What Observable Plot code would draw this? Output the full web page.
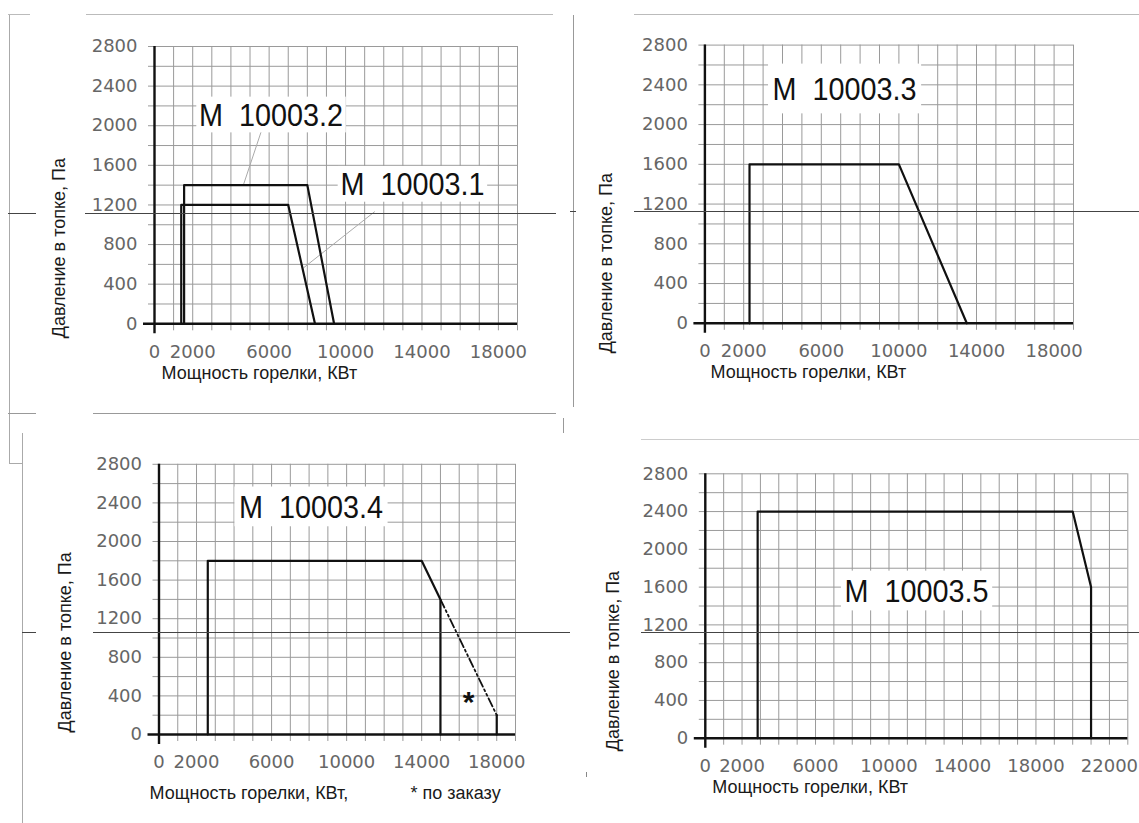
<!DOCTYPE html>
<html><head><meta charset="utf-8">
<script src="https://cdn.jsdelivr.net/npm/d3@7"></script>
<script src="https://cdn.jsdelivr.net/npm/@observablehq/plot@0.6"></script>
<style>
body{margin:0;background:#fff;}
#page{position:relative;width:1139px;height:823px;overflow:hidden;background:#fff;}
.panel{position:absolute;}
.deco{position:absolute;z-index:5;}
</style></head><body><div id="page"></div>
<script>
// ---- data ----
const xTicks19 = [0, 2000, 6000, 10000, 14000, 18000];
const xTicks23 = [0, 2000, 6000, 10000, 14000, 18000, 22000];
const yTicks = [0, 400, 800, 1200, 1600, 2000, 2400, 2800];
const xTitle = "Мощность горелки, КВт";
const xTitle4 = "Мощность горелки, КВт,";
const orderNote = "* по заказу";
const yTitle = "Давление в топке, Па";

// M 10003.1
const m1X = [1400, 1400, 7000, 8400];
const m1Y = [0, 1200, 1200, 0];
// M 10003.2
const m2X = [1550, 1550, 8000, 9400];
const m2Y = [0, 1400, 1400, 0];
// M 10003.3
const m3X = [2300, 2300, 10000, 13500];
const m3Y = [0, 1600, 1600, 0];
// M 10003.4 (standard)
const m4X = [2600, 2600, 14000, 15000, 15000];
const m4Y = [0, 1800, 1800, 1400, 0];
// M 10003.4 (on order, dash-dot)
const m4optX = [15000, 18000];
const m4optY = [1400, 200];
const m4endX = [18000, 18000];
const m4endY = [200, 0];
// M 10003.5
const m5X = [2850, 2850, 20000, 21000, 21000];
const m5Y = [0, 2400, 2400, 1600, 0];

const pts = (xs, ys) => xs.map((x, i) => ({x, y: ys[i]}));
const NB = "\u00a0\u00a0";
const titleFont = "'Liberation Sans'";

// ---- page decorations (scan borders) ----
const decoLines = [
  [8, 14, 30, 14, "#bbb"], [86, 14, 553, 14, "#bbb"], [9, 15, 9, 463, "#aaa"],
  [8, 213, 36, 213, "#444"], [85, 213, 556, 213, "#444"],
  [8, 413, 36, 413, "#999"], [93, 413, 556, 413, "#999"],
  [573, 15, 573, 407, "#999"], [634, 14, 1139, 14, "#bbb"],
  [570, 211, 576, 211, "#444"], [634, 211, 1139, 211, "#444"],
  [563, 418, 563, 433, "#999"], [9, 463, 22, 463, "#aaa"], [22, 433, 22, 823, "#aaa"],
  [22, 632, 36, 632, "#444"], [93, 632, 570, 632, "#444"],
  [641, 439, 1139, 439, "#ccc"], [641, 632, 1139, 632, "#444"],
  [586, 772, 586, 777, "#888"]
];

const page = document.getElementById("page");

function makePanel(cfg) {
  const xGrid = d3.range(0, cfg.xMax + 1, 1000);
  const yGrid = d3.range(0, 2801, 200);
  const marks = [
    Plot.ruleX(xGrid, {stroke: "#9a9a9a", strokeWidth: 1, insetBottom: -7}),
    Plot.ruleY(yGrid, {stroke: "#9a9a9a", strokeWidth: 1, insetLeft: -6}),
    Plot.axisX({ticks: cfg.xTicks, tickSize: 0, tickPadding: 21, fontSize: 18, fontFamily: "DejaVu Sans", color: "#666", tickFormat: d3.format("d"), label: null}),
    Plot.axisY({ticks: yTicks, tickSize: 0, tickPadding: 17, fontSize: 18, fontFamily: "DejaVu Sans", color: "#666", tickFormat: d3.format("d"), label: null}),
    ...cfg.marks,
    Plot.ruleX([0], {stroke: "#111", strokeWidth: 2.4, insetBottom: -10}),
    Plot.ruleY([0], {stroke: "#111", strokeWidth: 2.4, insetLeft: -11}),
    Plot.text([cfg.xTitle], {text: d => d, frameAnchor: "bottom-left", textAnchor: "start", dx: cfg.xtDx, dy: cfg.xtDy, fontSize: 18, fontFamily: titleFont, fill: "#1a1a1a"}),
    Plot.text([yTitle], {text: d => d, frameAnchor: "left", rotate: -90, textAnchor: "middle", dx: cfg.ytDx, dy: cfg.ytDy, fontSize: 18, fontFamily: titleFont, fill: "#1a1a1a"}),
    ...(cfg.extra || []),
    Plot.text(cfg.labels, {x: "x", y: "y", text: "t", fontSize: 32, fontFamily: "Liberation Sans", fill: "#111"})
  ];
  const svg = Plot.plot({
    width: cfg.width, height: cfg.height,
    marginLeft: cfg.mL, marginRight: cfg.mR, marginTop: cfg.mT, marginBottom: cfg.mB,
    x: {domain: [0, cfg.xMax]},
    y: {domain: [0, 2800]},
    style: {background: "transparent", fontFamily: "DejaVu Sans", overflow: "visible"},
    marks
  });
  svg.classList.add("panel");
  svg.style.left = cfg.left + "px";
  svg.style.top = cfg.top + "px";
  page.appendChild(svg);
  // condensed model labels with white boxes behind
  svg.querySelectorAll("text").forEach(t => {
    if (!t.textContent.startsWith("M\u00a0")) return;
    const b0 = t.getBBox();
    const cx = b0.x + b0.width / 2;
    const tr0 = t.getAttribute("transform") || "";
    const tr = `${tr0} translate(${cx},0) scale(0.9,1) translate(${-cx},0)`;
    t.setAttribute("transform", tr);
    const b = t.getBBox();
    const r = document.createElementNS("http://www.w3.org/2000/svg", "rect");
    r.setAttribute("x", b.x - cfg.padX);
    r.setAttribute("y", b.y - cfg.padY);
    r.setAttribute("width", b.width + 2 * cfg.padX);
    r.setAttribute("height", b.height + 2 * cfg.padY);
    r.setAttribute("fill", "white");
    r.setAttribute("stroke", "none");
    r.setAttribute("transform", tr);
    t.parentNode.insertBefore(r, t);
  });
}

const curve = (xs, ys, extra = {}) => Plot.line(pts(xs, ys), {x: "x", y: "y", stroke: "#111", strokeWidth: 2.2, ...extra});

// Panel 1
makePanel({
  left: 0, top: 0, width: 560, height: 410, mL: 154, mR: 43, mT: 46, mB: 86.7,
  xMax: 19000, xTicks: xTicks19, xTitle, xtDx: 7, xtDy: 55, ytDx: -95, ytDy: 63, padX: 3, padY: 0,
  marks: [
    Plot.link([{x1: 5600, y1: 1950, x2: 4650, y2: 1400}, {x1: 11530, y1: 1133, x2: 7800, y2: 565}],
      {x1: "x1", y1: "y1", x2: "x2", y2: "y2", stroke: "#aaa", strokeWidth: 1}),
    curve(m1X, m1Y), curve(m2X, m2Y)
  ],
  labels: [{x: 6100, y: 2100, t: "M" + NB + "10003.2"}, {x: 13500, y: 1400, t: "M" + NB + "10003.1"}]
});

// Panel 2
makePanel({
  left: 570, top: 0, width: 569, height: 410, mL: 134.4, mR: 66, mT: 44.6, mB: 87.2,
  xMax: 19000, xTicks: xTicks19, xTitle, xtDx: 5.6, xtDy: 55, ytDx: -99, ytDy: 79, padX: 5, padY: 7,
  marks: [curve(m3X, m3Y)],
  labels: [{x: 7200, y: 2350, t: "M" + NB + "10003.3"}]
});

// Panel 3
makePanel({
  left: 0, top: 415, width: 560, height: 408, mL: 158.5, mR: 45, mT: 48.8, mB: 89,
  xMax: 19000, xTicks: xTicks19, xTitle: xTitle4, xtDx: -9.5, xtDy: 64, ytDx: -94, ytDy: 43, padX: 5, padY: 2,
  marks: [
    curve(m4X, m4Y),
    curve(m4optX, m4optY, {strokeWidth: 1.8, strokeDasharray: "9,3,2,3,2,3"}),
    curve(m4endX, m4endY)
  ],
  extra: [
    Plot.text([orderNote], {text: d => d, frameAnchor: "bottom-left", textAnchor: "start", dx: 251.5, dy: 64, fontSize: 18, fontFamily: titleFont, fill: "#1a1a1a"}),
    Plot.text([{x: 16500, y: 420, t: "*"}], {x: "x", y: "y", text: "t", dy: 8, fontSize: 30, fontWeight: "bold", fontFamily: "Liberation Sans", fill: "#111"})
  ],
  labels: [{x: 8100, y: 2350, t: "M" + NB + "10003.4"}]
});

// Panel 4
makePanel({
  left: 570, top: 415, width: 569, height: 408, mL: 134.8, mR: 11.7, mT: 58.3, mB: 85.3,
  xMax: 23000, xTicks: xTicks23, xTitle, xtDx: 7, xtDy: 55, ytDx: -92, ytDy: 55, padX: 4, padY: 2,
  marks: [curve(m5X, m5Y)],
  labels: [{x: 11500, y: 1550, t: "M" + NB + "10003.5"}]
});

// decorations
decoLines.forEach(([x1, y1, x2, y2, c]) => {
  const d = document.createElement("div");
  d.className = "deco";
  d.style.left = Math.min(x1, x2) + "px";
  d.style.top = Math.min(y1, y2) + "px";
  d.style.width = Math.max(1, Math.abs(x2 - x1)) + "px";
  d.style.height = Math.max(1, Math.abs(y2 - y1)) + "px";
  d.style.background = c;
  page.appendChild(d);
});
</script></body></html>
